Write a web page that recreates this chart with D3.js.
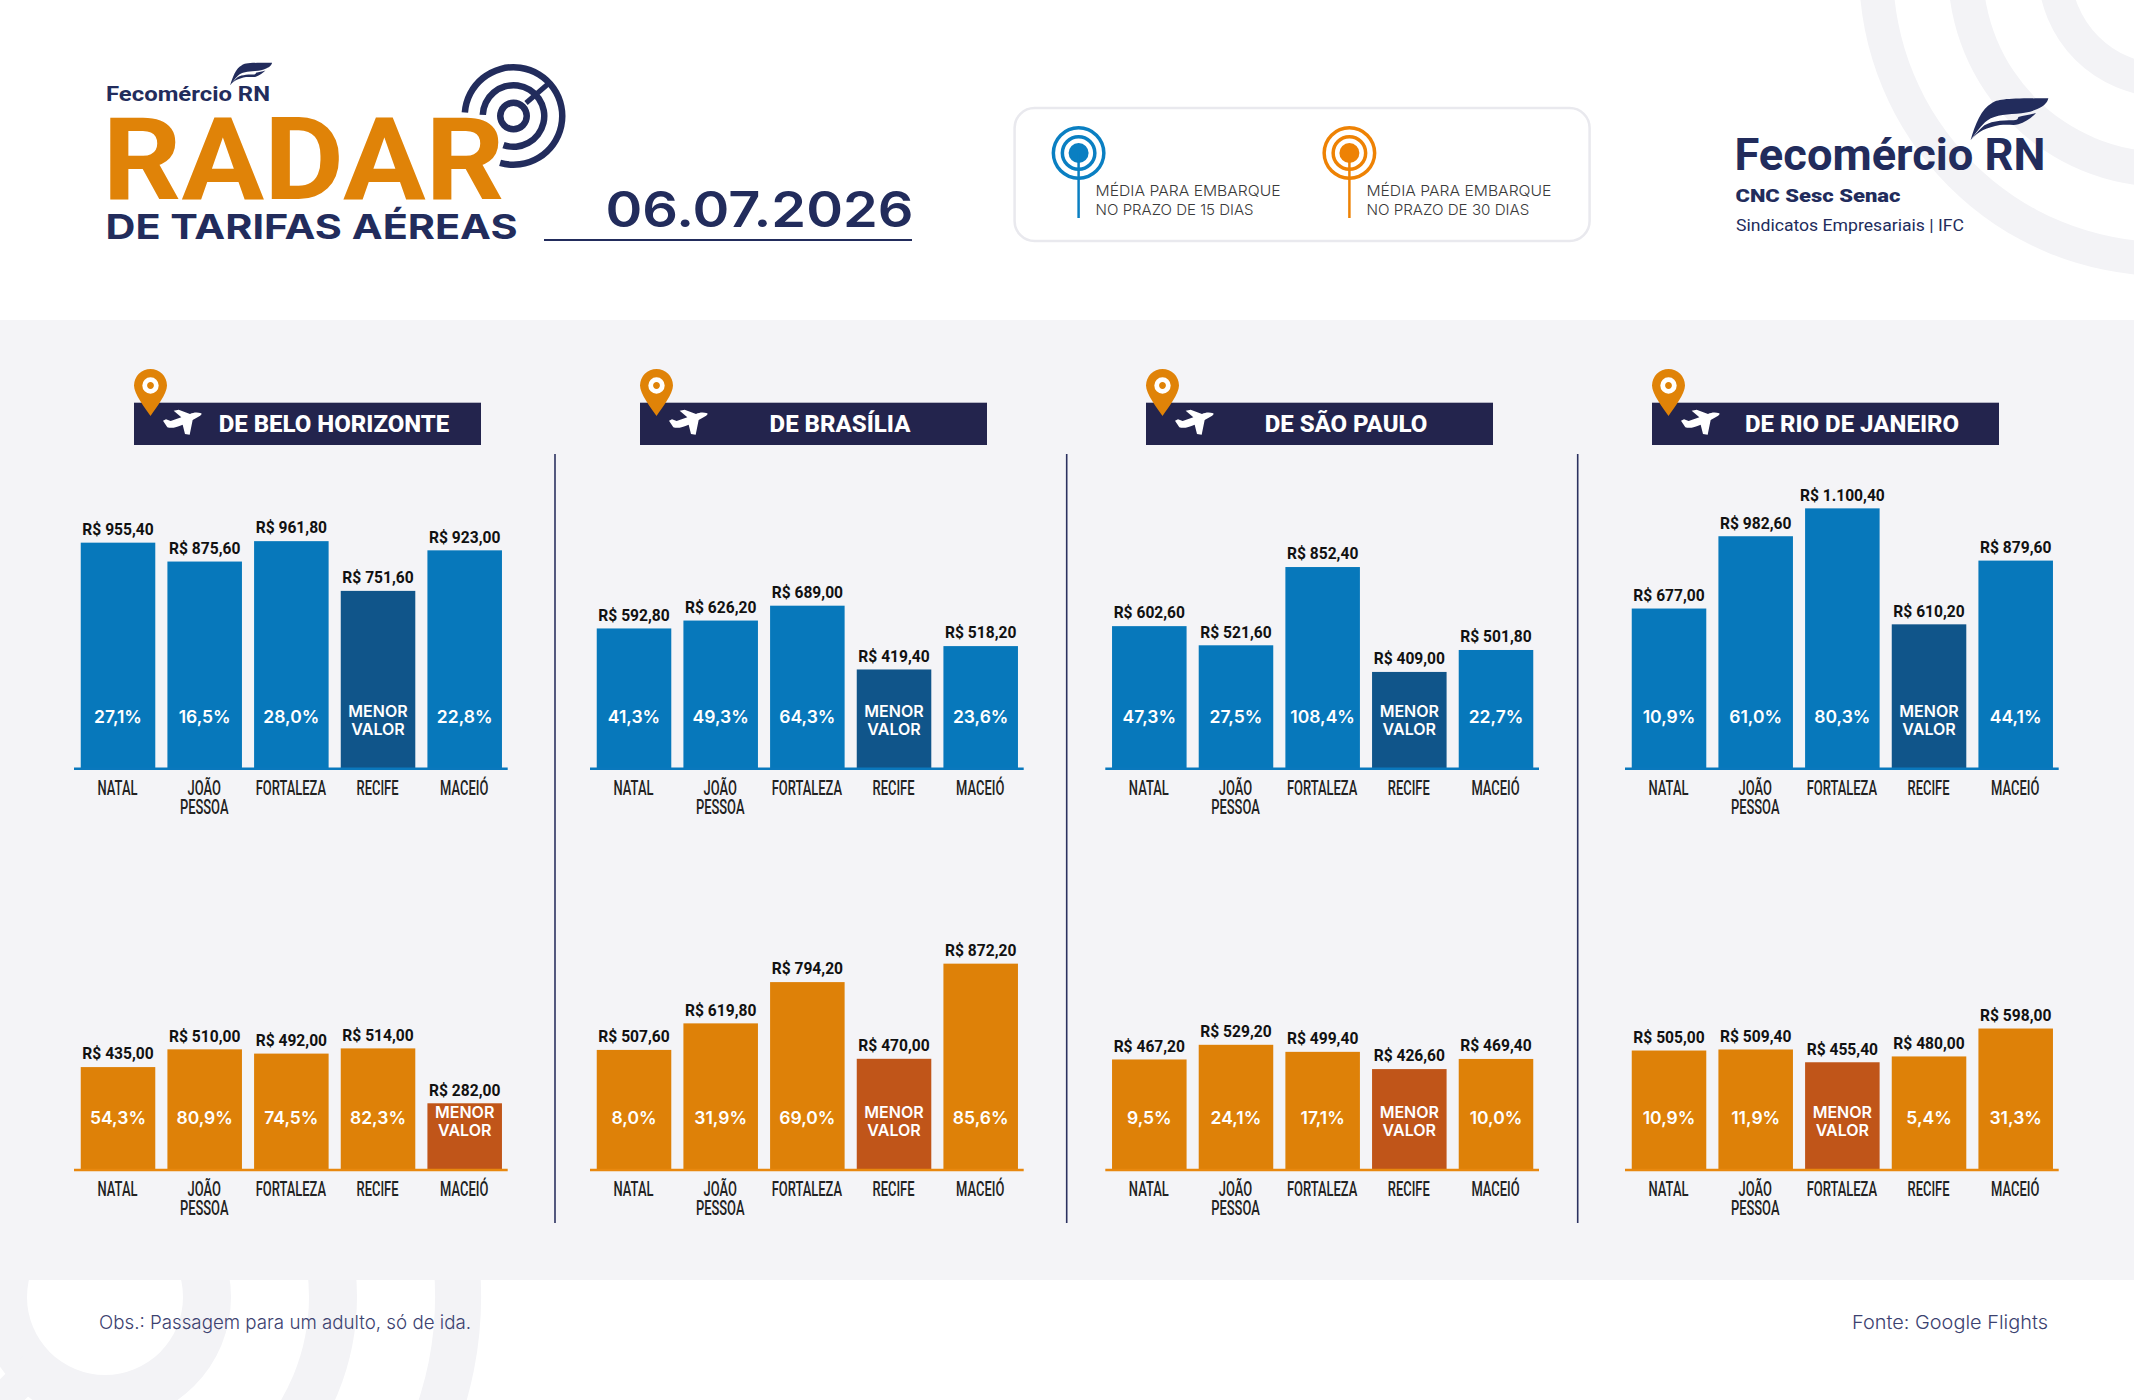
<!DOCTYPE html>
<html>
<head>
<meta charset="utf-8">
<script src="https://cdn.jsdelivr.net/npm/d3@7"></script>
<style>
  html,body{margin:0;padding:0;background:#fff;}
  svg{display:block;}
</style>
</head>
<body>
<div id="chart"></div>
<script>
// data
const cities = ["NATAL","JOÃO PESSOA","FORTALEZA","RECIFE","MACEIÓ"];
const origins = ["DE BELO HORIZONTE","DE BRASÍLIA","DE SÃO PAULO","DE RIO DE JANEIRO"];

// price per city, 15 days / 30 days
const bh15 = [955.4,875.6,961.8,751.6,923.0];
const bh30 = [435.0,510.0,492.0,514.0,282.0];
const bsb15 = [592.8,626.2,689.0,419.4,518.2];
const bsb30 = [507.6,619.8,794.2,470.0,872.2];
const sp15 = [602.6,521.6,852.4,409.0,501.8];
const sp30 = [467.2,529.2,499.4,426.6,469.4];
const rj15 = [677.0,982.6,1100.4,610.2,879.6];
const rj30 = [505.0,509.4,455.4,480.0,598.0];

// % above the lowest value, null = "MENOR VALOR"
const bh15Pct = [27.1,16.5,28.0,null,22.8];
const bh30Pct = [54.3,80.9,74.5,82.3,null];
const bsb15Pct = [41.3,49.3,64.3,null,23.6];
const bsb30Pct = [8.0,31.9,69.0,null,85.6];
const sp15Pct = [47.3,27.5,108.4,null,22.7];
const sp30Pct = [9.5,24.1,17.1,null,10.0];
const rj15Pct = [10.9,61.0,80.3,null,44.1];
const rj30Pct = [10.9,11.9,null,5.4,31.3];

const prices15 = [bh15,bsb15,sp15,rj15], prices30 = [bh30,bsb30,sp30,rj30];
const pcts15 = [bh15Pct,bsb15Pct,sp15Pct,rj15Pct], pcts30 = [bh30Pct,bsb30Pct,sp30Pct,rj30Pct];

const W=2134, H=1400;
const NAVY="#222c5c", TITLE_BG="#23244d", GREY="#f4f4f7", RING="#f3f3f6";
const BLUE="#0778bb", BLUE_DK="#10558a", ORANGE="#de8108", ORANGE_DK="#c05519";
const SANS="Inter, sans-serif", CARD="Roboto, sans-serif";

const ptBR=d3.formatLocale({decimal:",",thousands:".",grouping:[3],currency:["R$ ",""]});
const fmtPrice=ptBR.format("$,.2f"), fmtPct=ptBR.format(".1f");

const svg=d3.select("#chart").append("svg").attr("width",W).attr("height",H).attr("viewBox",`0 0 ${W} ${H}`);

function ring(g,cx,cy,r0,r1,a0,a1,fill){
  const arc=d3.arc().innerRadius(r0).outerRadius(r1).startAngle((a0||0)*Math.PI/180).endAngle((a1===undefined?360:a1)*Math.PI/180);
  return g.append("path").attr("transform",`translate(${cx},${cy})`).attr("d",arc()).attr("fill",fill);
}
function label(g,x,y,s,opt){
  const t=g.append("text").attr("x",x).attr("y",y).text(s)
    .attr("font-family",opt.font||SANS).attr("font-size",opt.size).attr("font-weight",opt.weight||400)
    .attr("fill",opt.fill||NAVY).attr("text-anchor",opt.anchor||"start");
  if(opt.w) t.attr("textLength",opt.w).attr("lengthAdjust","spacingAndGlyphs");
  return t;
}

// background rings + grey band
const bg=svg.append("g");
[[94,127],[182,217],[272,306]].forEach(r=>ring(bg,2165,-30,r[0],r[1],0,360,RING));
[[78,126],[204,252],[330,376]].forEach(r=>ring(bg,105,1297,r[0],r[1],0,360,RING));
bg.append("line").attr("x1",105-70).attr("y1",1297+70).attr("x2",105-140).attr("y2",1297+140)
  .attr("stroke",RING).attr("stroke-width",32);
bg.append("rect").attr("x",0).attr("y",320).attr("width",W).attr("height",960).attr("fill",GREY);

// left logo
const head=svg.append("g");
const FEATHER_A="M62,165C75,120 95,70 125,55C145,42 170,40 295,40C292,52 285,62 262,72C245,80 225,84 200,86C160,88 125,92 105,112C88,128 75,148 62,165Z";
const FEATHER_B="M62,165C85,138 110,128 150,120C175,117 190,122 205,118C225,112 245,98 258,84C240,90 222,92 205,96C205,102 200,106 190,106C155,106 115,108 95,128C82,140 72,152 62,165Z";
function feather(x,y,k){
  const f=head.append("g").attr("transform",`translate(${x},${y}) scale(${k})`);
  f.append("path").attr("d",FEATHER_A).attr("fill",NAVY);
  f.append("path").attr("d",FEATHER_B).attr("fill",NAVY);
}
feather(219,55.5,.18);
label(head,106,101,"Fecomércio RN",{font:CARD,size:21,weight:700,w:164});
label(head,102.5,199,"RADAR",{font:CARD,size:115,weight:700,fill:"#e08308",w:402});
label(head,105.5,239,"DE TARIFAS AÉREAS",{size:34,weight:700,w:412});
// radar target
ring(head,513.5,116,45.5,52,-86,196,NAVY);
ring(head,513.5,116,27.5,34,-88,199,NAVY);
ring(head,513.5,116,10,16.5,0,360,NAVY);
head.append("line").attr("x1",526).attr("y1",103).attr("x2",548).attr("y2",84).attr("stroke",NAVY).attr("stroke-width",5);
// date
label(head,605.5,227,"06.07.2026",{size:49,weight:600,w:308});
head.append("line").attr("x1",544).attr("y1",240).attr("x2",912).attr("y2",240).attr("stroke",NAVY).attr("stroke-width",2);

// legend
const leg=svg.append("g");
leg.append("rect").attr("x",1014.6).attr("y",108).attr("width",575).attr("height",133).attr("rx",20)
  .attr("fill","#fff").attr("stroke","#e9e9ee").attr("stroke-width",2.5);
[{x:1078.6,c:"#0a7fc2",a:"NO PRAZO DE 15 DIAS",w:158},{x:1349.4,c:"#ee8204",a:"NO PRAZO DE 30 DIAS",w:163}].forEach(d=>{
  ring(leg,d.x,153,23.5,27,0,360,d.c);
  ring(leg,d.x,153,14.5,18,0,360,d.c);
  leg.append("circle").attr("cx",d.x).attr("cy",153).attr("r",10).attr("fill",d.c);
  leg.append("line").attr("x1",d.x).attr("y1",153).attr("x2",d.x).attr("y2",218).attr("stroke",d.c).attr("stroke-width",2.5);
  label(leg,d.x+17,196.3,"MÉDIA PARA EMBARQUE",{size:15,weight:300,fill:"#3a3a3a",w:185});
  label(leg,d.x+17,215.2,d.a,{size:15,weight:300,fill:"#3a3a3a",w:d.w});
});

// right logo
feather(1950,85,1/3);
label(head,1734.5,170,"Fecomércio RN",{font:CARD,size:43.5,weight:700,w:311});
label(head,1735.5,201.7,"CNC Sesc Senac",{font:CARD,size:19,weight:900,w:165});
label(head,1736,231,"Sindicatos Empresariais  |  IFC",{font:CARD,size:17,weight:400,w:228});

// the charts
const AXIS_X=[74,590,1105.3,1625], TITLE_X=[134,640,1146,1652], SEP_X=[555,1066.7,1577.7];
const BASE_15=768.7, BASE_30=1170;
const PLOT_H=283.9; // px for 1200 R$

const x=d3.scaleBand().domain(cities).range([0,433.7]).paddingInner(.14).paddingOuter(.072);
const y=d3.scaleLinear().domain([0,1200]).range([PLOT_H,0]);

function barChart(parent,ax,base,prices,pcts,col,colDk){
  const g=parent.append("g").attr("transform",`translate(${ax},${base-PLOT_H})`);
  const rows=cities.map((c,i)=>({city:c,price:prices[i],pct:pcts[i]}));

  g.selectAll("rect.bar").data(rows).join("rect").attr("class","bar")
    .attr("x",d=>x(d.city)+.5).attr("y",d=>y(d.price))
    .attr("width",x.bandwidth()).attr("height",d=>y(0)-y(d.price))
    .attr("fill",d=>d.pct===null?colDk:col);

  // base line and city names
  const axis=d3.axisBottom(x).tickSize(0).tickSizeOuter(0).offset(0);
  const ag=g.append("g").attr("transform",`translate(0,${PLOT_H})`).call(axis);
  ag.select(".domain").attr("stroke",col==BLUE?"#0a78bd":"#e8880f").attr("stroke-width",2.5);
  ag.selectAll(".tick text").each(function(c){
    const t=d3.select(this).text(null).attr("y",0).attr("dy",null)
      .attr("font-family",CARD).attr("font-size",19.6).attr("font-weight",500).attr("fill","#222")
      .attr("transform","scale(.66,1)");
    c.split(" ").forEach((w,i)=>t.append("tspan").attr("x",0).attr("y",26.3+i*19).text(w));
  });

  g.selectAll("text.price").data(rows).join("text").attr("class","price")
    .attr("transform",d=>`translate(${x(d.city)+x.bandwidth()/2+.5},${y(d.price)-7.7}) scale(.94,1)`)
    .attr("text-anchor","middle").attr("font-family",CARD).attr("font-size",16.6).attr("font-weight",700).attr("fill","#111")
    .text(d=>fmtPrice(d.price));

  g.selectAll("text.pct").data(rows.filter(d=>d.pct!==null)).join("text").attr("class","pct")
    .attr("x",d=>x(d.city)+x.bandwidth()/2+.5).attr("y",PLOT_H-45.7)
    .attr("text-anchor","middle").attr("font-family",SANS).attr("font-size",17.5).attr("font-weight",600).attr("fill","#fff")
    .text(d=>fmtPct(d.pct)+"%");

  const low=rows.filter(d=>d.pct===null);
  [["MENOR",-52],["VALOR",-33.6]].forEach(l=>{
    g.selectAll(null).data(low).join("text")
      .attr("x",d=>x(d.city)+x.bandwidth()/2+.5).attr("y",PLOT_H+l[1])
      .attr("text-anchor","middle").attr("font-family",SANS).attr("font-size",16).attr("font-weight",600).attr("fill","#fff")
      .text(l[0]);
  });
}

const PLANE="M184,40C170,36 160,38 150,42L116,29L101,32L124,52L92,63L78,58L69,62L82,82C95,86 110,82 128,74L135,102L149,104L158,60L178,49C183,46 186,43 184,40Z";
const charts=svg.append("g");
origins.forEach((o,i)=>{
  const tx=TITLE_X[i];
  charts.append("rect").attr("x",tx).attr("y",402.7).attr("width",347).attr("height",42.3).attr("fill",TITLE_BG);
  charts.append("path").attr("d",PLANE).attr("fill","#fff").attr("transform",`translate(${tx+6},${400}) scale(${1/3})`);
  label(charts,tx+200,431.7,o,{font:CARD,size:24,weight:800,fill:"#fff",anchor:"middle"});
  // pin
  const pin=charts.append("g").attr("transform",`translate(${tx+16.5},385.5)`);
  pin.append("path").attr("d","M0,30.5C-6,22 -16.5,8 -16.5,0A16.5,16.5 0 1 1 16.5,0C16.5,8 6,22 0,30.5Z").attr("fill","#e08308");
  pin.append("circle").attr("r",5.8).attr("fill","#e08308").attr("stroke","#fff").attr("stroke-width",4.8);

  barChart(charts,AXIS_X[i],BASE_15,prices15[i],pcts15[i],BLUE,BLUE_DK);
  barChart(charts,AXIS_X[i],BASE_30,prices30[i],pcts30[i],ORANGE,ORANGE_DK);
});
SEP_X.forEach(sx=>charts.append("line").attr("x1",sx).attr("x2",sx).attr("y1",454).attr("y2",1223).attr("stroke","#2b3160").attr("stroke-width",1.6));

// footer
label(svg,99,1329,"Obs.: Passagem para um adulto, só de ida.",{size:19,weight:300,fill:"#3c4270",w:372});
label(svg,1852,1329,"Fonte: Google Flights",{size:19,weight:300,fill:"#3c4270",w:196});
</script>
</body>
</html>
